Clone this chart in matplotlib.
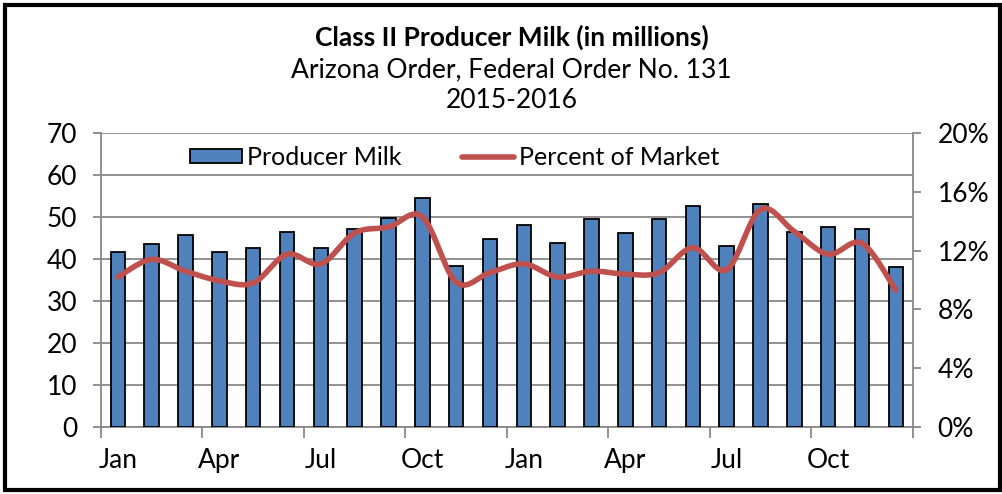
import matplotlib
matplotlib.use("Agg")
import matplotlib.pyplot as plt
import numpy as np
from matplotlib.patches import Rectangle
from matplotlib.ticker import FuncFormatter

plt.rcParams['font.family'] = ['Lato', 'DejaVu Sans']

# Data (Jan 2015 - Dec 2016)
months = ["Jan", "Feb", "Mar", "Apr", "May", "Jun", "Jul", "Aug", "Sep", "Oct", "Nov", "Dec"] * 2
producer_milk = [41.7, 43.6, 45.7, 41.7, 42.5, 46.5, 42.7, 47.2, 49.7, 54.5, 38.3, 44.8,
                 48.0, 43.7, 49.6, 46.2, 49.5, 52.7, 43.1, 53.2, 46.4, 47.5, 47.1, 38.0]
pct_market = [10.2, 11.4, 10.6, 9.95, 9.8, 11.75, 11.1, 13.2, 13.6, 14.3, 9.85, 10.5,
              11.1, 10.2, 10.6, 10.4, 10.5, 12.2, 10.7, 14.8, 13.3, 11.75, 12.5, 9.3]


def smooth(x, y, n=20):
    # Catmull-Rom style smoothing, like Excel's "smoothed line"
    x = np.asarray(x, float)
    y = np.asarray(y, float)
    px = np.concatenate([[x[0]], x, [x[-1]]])
    py = np.concatenate([[y[0]], y, [y[-1]]])
    xs, ys = [], []
    for i in range(1, len(px) - 2):
        p0, p1, p2, p3 = (np.array([px[j], py[j]]) for j in (i - 1, i, i + 1, i + 2))
        c1 = p1 + (p2 - p0) / 6
        c2 = p2 - (p3 - p1) / 6
        t = np.linspace(0, 1, n)[:, None]
        pts = (1 - t) ** 3 * p1 + 3 * (1 - t) ** 2 * t * c1 + 3 * (1 - t) * t ** 2 * c2 + t ** 3 * p2
        xs.extend(pts[:, 0])
        ys.extend(pts[:, 1])
    return np.array(xs), np.array(ys)


fig = plt.figure(figsize=(10.03, 4.94), dpi=100)
ax = fig.add_axes([0.1007, 0.1356, 0.8093, 0.5952])
ax2 = ax.twinx()

x = np.arange(len(producer_milk))
ax.bar(x, producer_milk, width=0.43, color="#4f81bd", edgecolor="black", linewidth=1.3,
       zorder=3, label="Producer Milk")

sx, sy = smooth(x, pct_market)
ax2.plot(sx, sy, color="#c0504d", linewidth=4, solid_capstyle="round", label="Percent of Market")

ax.set_xlim(-0.5, len(x) - 0.5)
ax.set_ylim(0, 70)
ax.set_yticks(range(0, 71, 10))
ax2.set_ylim(0, 20)
ax2.set_yticks(range(0, 21, 4))
ax2.yaxis.set_major_formatter(FuncFormatter(lambda v, p: f"{v:.0f}%"))

ax.yaxis.grid(True, color="#888888", linewidth=1.3, zorder=0)
ax.set_axisbelow(True)

# quarter tick marks between bars, labels under first month of each quarter
ax.set_xticks(np.arange(-0.5, len(x), 3))
ax.set_xticklabels([])
ax.set_xticks(x[::3], minor=True)
ax.set_xticklabels(months[::3], minor=True)
ax.tick_params(axis="x", which="major", length=8, color="#888888", width=1.3)
ax.tick_params(axis="x", which="minor", length=0, pad=15, labelsize=19)
ax.tick_params(axis="y", length=6, color="#888888", width=1.3, labelsize=19, pad=11)
ax2.tick_params(axis="y", length=6, color="#888888", width=1.3, labelsize=19, pad=12)

for a in (ax, ax2):
    for s in a.spines.values():
        s.set_visible(False)
for s in (ax.spines["left"], ax.spines["bottom"], ax2.spines["right"]):
    s.set_visible(True)
    s.set_color("#888888")
    s.set_linewidth(1.3)

h1, l1 = ax.get_legend_handles_labels()
h2, l2 = ax2.get_legend_handles_labels()
ax2.legend(h1 + h2, l1 + l2, loc="center", bbox_to_anchor=(0.436, 0.918), ncol=2,
           frameon=False, fontsize=18, handlelength=2.1, handleheight=0.5,
           handletextpad=0.2, columnspacing=2.4)

fig.text(0.51, 0.925, "Class II Producer Milk (in millions)", ha="center", va="center",
         fontsize=19, fontweight="bold")
fig.text(0.51, 0.858, "Arizona Order, Federal Order No. 131", ha="center", va="center", fontsize=19)
fig.text(0.51, 0.797, "2015-2016", ha="center", va="center", fontsize=19)

fig.patches.append(Rectangle((0.005, 0.008), 0.992, 0.982, transform=fig.transFigure,
                             fill=False, edgecolor="black", linewidth=3))

fig.savefig("out.png", dpi=100)
